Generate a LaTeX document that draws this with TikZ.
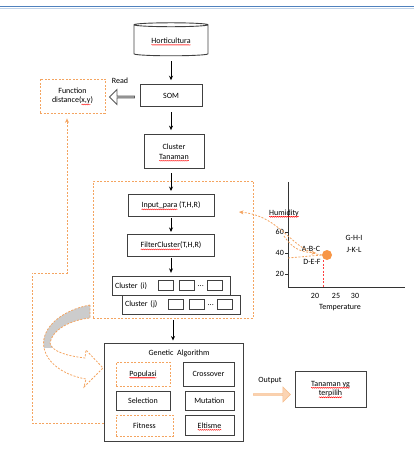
\documentclass[tikz,border=0pt]{standalone}
\usepackage{fontspec}
\setmainfont{Carlito}
\usetikzlibrary{shapes.geometric, shapes.arrows, arrows.meta, positioning, calc, fit, decorations.pathmorphing}
\definecolor{cOrange}{RGB}{244,164,96}
\definecolor{cDot}{RGB}{247,150,70}
\definecolor{cPeach}{RGB}{251,212,180}
\definecolor{cBlue}{RGB}{79,129,189}
\newcommand{\spellerr}[1]{\tikz[baseline=(s.base)]{\node[shape=rectangle, draw=none, fill=none, inner sep=0pt, outer sep=0pt, minimum width=0pt, minimum height=0pt, text width=, align=left] (s) {#1}; \draw[overlay, solid, red, line width=0.4pt, decorate, decoration={snake, amplitude=0.5pt, segment length=2pt}] ([yshift=-1.6pt]s.base west) -- ([yshift=-1.6pt]s.base east);}}
\tikzset{
	box/.style      ={rectangle, draw=black!75, line width=0.9pt, align=center, inner sep=1pt, fill=white},
	obox/.style     ={rectangle, draw=cOrange, line width=0.8pt, dash pattern=on 2pt off 1.5pt, align=center, inner sep=1pt},
	sq/.style       ={rectangle, draw=black!75, line width=0.8pt, minimum width=15pt, minimum height=10pt, inner sep=0pt},
	flowarrow/.style={-{Stealth[length=4.5pt,width=4pt]}, line width=0.8pt, shorten <=5pt, shorten >=4pt},
	oflow/.style    ={draw=cOrange, line width=0.8pt, dash pattern=on 2pt off 1.5pt, -{Stealth[length=4.5pt,width=4pt]}},
	lbl/.style      ={inner sep=0pt},
}
\begin{document}
\begin{tikzpicture}[x=1pt, y=-1pt, font=\fontsize{8}{9.5}\selectfont]
	\useasboundingbox (0,0) rectangle (414,462);
	\draw[cBlue!35, line width=1pt] (0,8.5) -- (414,8.5);
	\draw[cBlue, line width=1pt] (0,7) -- (414,7);
	% main column
	\node[cylinder, shape border rotate=90, draw=black!75, line width=0.9pt, aspect=0.1, minimum width=74pt, minimum height=33pt, inner sep=0pt] (hort) at (171,40.5) {\spellerr{Horticultura}};
	\node[box, minimum width=62pt, minimum height=22pt, below=28pt of hort] (som) {SOM};
	\node[box, minimum width=60pt, minimum height=34pt, below=27pt of som, xshift=3pt] (ct) {Cluster\\\spellerr{Tanaman}};
	\node[obox, minimum width=160pt, minimum height=137pt] (grp) at (173,249.5) {};
	\node[box, minimum width=86pt, minimum height=22pt, below=25pt of ct, xshift=-3pt] (inp) {\spellerr{Input\_para} (T,H,R)};
	\node[box, minimum width=87pt, minimum height=22pt, below=17pt of inp] (flt) {\spellerr{FilterCluster}(T,H,R)};
	\node[box, minimum width=118pt, minimum height=19pt, text width=112pt, align=left, below=19pt of flt] (ci) {Cluster (i)};
	\node[box, minimum width=118pt, minimum height=19pt, text width=112pt, align=left, below=-1pt of ci, xshift=10pt] (cj) {Cluster (j)};
	\foreach \dx/\n in {-5.5/1,15.5/2,44/3} {
		\node[sq] (ci\n) at ([xshift=\dx pt]ci.center) {};
		\node[sq] (cj\n) at ([xshift=\dx pt]cj.center) {};
	}
	\node[lbl] at ($(ci2.east)!0.5!(ci3.west)$) {...};
	\node[lbl] at ($(cj2.east)!0.5!(cj3.west)$) {...};
	\draw[flowarrow] (hort.south) -- (hort.south |- som.north);
	\draw[flowarrow] (som.south) -- (som.south |- ct.north);
	\draw[flowarrow, shorten <=4pt, shorten >=3pt] (inp.north |- ct.south) -- (inp.north);
	\draw[flowarrow, shorten <=1pt, shorten >=2pt] (inp.south) -- (flt.north);
	\draw[flowarrow, shorten <=1pt, shorten >=3pt] (flt.south) -- (flt.south |- ci.north);
	% read / function distance
	\node[obox, minimum width=65pt, minimum height=34pt] (fd) at (72.5,96) {Function\\distance(\spellerr{x,y})};
	\node[single arrow, shape border rotate=180, draw=black!65, fill=white, line width=0.8pt, minimum height=25pt, minimum width=15pt, single arrow head extend=3pt, inner sep=0pt] (rd) at (122.5,97) {};
	\node[lbl] (rdl) at (120,81) {Read};
	% genetic algorithm
	\node[box, minimum width=139pt, minimum height=98pt] (ga) at (173.5,392) {};
	\node[lbl] (gat) at (179,353) {Genetic\ \ Algorithm};
	\node[obox, minimum width=54pt, minimum height=24pt] (pop) at (143,374) {\spellerr{Populasi}};
	\node[box, minimum width=51pt, minimum height=24pt] (cro) at (208.5,374) {Crossover};
	\node[box, minimum width=54pt, minimum height=19pt] (sel) at (143,400.5) {Selection};
	\node[box, minimum width=49pt, minimum height=19pt] (mut) at (209.5,400.5) {Mutation};
	\node[obox, minimum width=57pt, minimum height=21pt] (fit) at (144.5,425.5) {Fitness};
	\node[box, minimum width=49pt, minimum height=20pt] (eli) at (209.5,425.5) {\spellerr{Eltisme}};
	\draw[flowarrow, shorten <=2pt, shorten >=2pt] (grp.south) -- (grp.south |- ga.north);
	% output
	\node[single arrow, draw=cOrange!70, fill=cPeach, line width=0.6pt, minimum height=37pt, minimum width=15pt, single arrow head extend=2.5pt, inner sep=0pt] (out) at (271.5,394.5) {};
	\node[lbl] (outl) at (270,381) {Output};
	\node[box, minimum width=71pt, minimum height=36pt] (res) at (330.5,389) {\spellerr{Tanaman yg}\\\spellerr{terpilih}};
	% feedback to function distance
	\coordinate (lb) at (32,423);
	\coordinate (lt) at (32,273);
	\coordinate (up) at (67,273);
	\draw[oflow, shorten >=5pt] (lb -| ga.west) -- (lb) -- (lt) -- (up) -- (up |- fd.south);
	% grey curved arrow
	\def\grayarrow{(90,305) .. controls (62,310) and (40,328) .. (44,348) .. controls (48,366) and (68,376) .. (86,379) -- (84,387) -- (103,368) -- (86,350) -- (85,358) .. controls (68,356) and (52,352) .. (50,343) .. controls (52,330) and (70,320) .. (90,318) -- cycle}
	\begin{scope}
		\clip (0,300) rectangle (100,347);
		\fill[gray!40] \grayarrow;
	\end{scope}
	\draw[cOrange, line width=0.8pt, dash pattern=on 2pt off 1.5pt] \grayarrow;
	% chart
	\draw[black!80, line width=1pt] (288,182) -- (288,287) -- (405,287);
	\foreach \y/\t in {232/60,253/40,274/20} {
		\draw[black!80, line width=0.8pt] (285,\y) -- (288,\y);
		\node[lbl, anchor=east] at (284,\y) {\t};
	}
	\foreach \x/\t in {315/20,336/25,355/30} \node[lbl] at (\x,296) {\t};
	\node[lbl] (tmp) at (340,308) {Temperature};
	\node[lbl] (hum) at (284,213) {\spellerr{Humidity}};
	\node[lbl] (abc) at (311,249) {A-B-C};
	\node[lbl] (def) at (312,262) {D-E-F};
	\node[lbl] (ghi) at (354,238) {G-H-I};
	\node[lbl] (jkl) at (354,250) {J-K-L};
	\node[circle, fill=cDot, minimum size=10pt, inner sep=0pt] (dot) at (327,255) {};
	\draw[red!75, line width=0.8pt, dash pattern=on 2pt off 1.5pt] (323,260) -- (323,287);
	\draw[cOrange, line width=0.8pt, dash pattern=on 2pt off 1.5pt] (288,258) -- (dot.west);
	\draw[oflow] (dot.west) .. controls (292,252) and (282,216) .. (239,212);
	\draw[oflow] (284,236) .. controls (292,248) and (300,252) .. (316,253);
\end{tikzpicture}
\end{document}
